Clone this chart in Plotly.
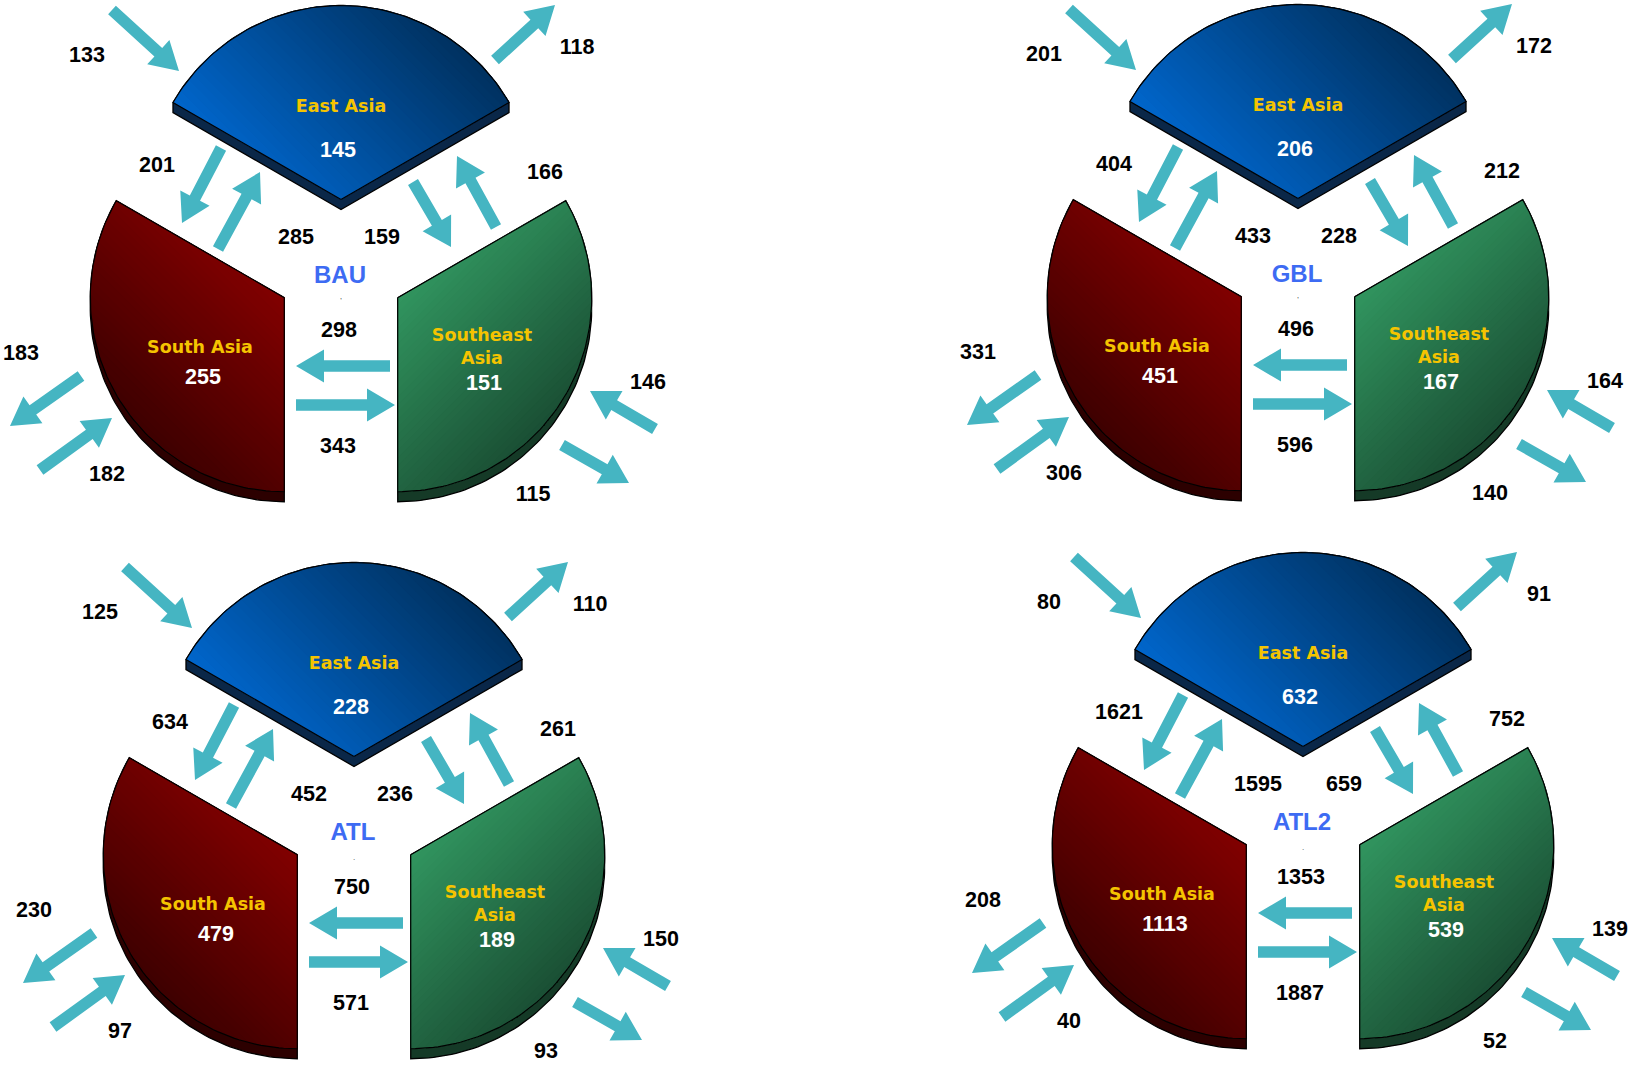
import numpy as np
import plotly.graph_objects as go

# ---------------- data ----------------
scenarios = ["BAU", "GBL", "ATL", "ATL2"]
scenario_marks = ["'", "'", ".", "."]
region_labels = ["East Asia", "South Asia", "Southeast<br>Asia"]

east_asia = [145, 206, 228, 632]
south_asia = [255, 451, 479, 1113]
southeast_asia = [151, 167, 189, 539]

ea_inflow = [133, 201, 125, 80]
ea_outflow = [118, 172, 110, 91]
ea_to_sa = [201, 404, 634, 1621]
sa_to_ea = [285, 433, 452, 1595]
ea_to_sea = [159, 228, 236, 659]
sea_to_ea = [166, 212, 261, 752]
sea_to_sa = [298, 496, 750, 1353]
sa_to_sea = [343, 596, 571, 1887]
sa_outflow = [183, 331, 230, 208]
sa_inflow = [182, 306, 97, 40]
sea_inflow = [146, 164, 150, 139]
sea_outflow = [115, 140, 93, 52]

# ---------------- layout (pixel geometry) ----------------
panel_centres = [(341, 265), (1298, 264), (354, 822), (1303, 812)]
R = 194.0
EXPLODE = 65.5
DEPTH = 10.0
TEXT_DY = 3

flows = [ea_inflow, ea_outflow, ea_to_sa, sa_to_ea, ea_to_sea, sea_to_ea,
         sea_to_sa, sa_to_sea, sa_outflow, sa_inflow, sea_inflow, sea_outflow]
arrow_geom = [((-229, -255), (-162, -194)), ((154, -205), (214, -260)),
              ((-120, -117), (-159, -42)), ((-123, -16), (-81, -93)),
              ((72, -83), (110, -18)), ((155, -38), (116, -109)),
              ((49, 101), (-45, 101)), ((-45, 140), (54, 140)),
              ((-260, 111), (-331, 161)), ((-301, 205), (-229, 153)),
              ((314, 164), (249, 126)), ((221, 180), (288, 218))]
label_off = [(-254, -211), (236, -219), (-184, -101), (-45, -29), (41, -29),
             (204, -94), (-2, 64), (-3, 180), (-320, 87), (-234, 208),
             (307, 116), (192, 228)]

# region geometry: bisector angle, face gradient, side colour, gradient direction
region_style = [
    dict(bis=90, c0="#0066CC", c1="#00315F", side="#0A2748", u=(0.707, -0.707),
         name_off=(0, -160), val_off=(-3, -116)),
    dict(bis=210, c0="#3E0000", c1="#820000", side="#2C0000", u=(0.707, -0.707),
         name_off=(-141, 81), val_off=(-138, 111)),
    dict(bis=330, c0="#31955F", c1="#1A4F34", side="#153A27", u=(0.707, 0.707),
         name_off=(141, 80), val_off=(143, 117)),
]
region_values = [east_asia, south_asia, southeast_asia]
N_BANDS = 36
ARROW_COLOR = "#45B5C2"


def hex2rgb(h):
    h = h.lstrip("#")
    return tuple(int(h[i:i + 2], 16) for i in (0, 2, 4))


def mix(a, b, t):
    ra, rb = hex2rgb(a), hex2rgb(b)
    return "rgb(%d,%d,%d)" % tuple(round(ra[k] + (rb[k] - ra[k]) * t) for k in range(3))


def sector(cx, cy, a0, a1, n=90):
    th = np.radians(np.linspace(a0, a1, n))
    pts = [(cx, cy)] + [(cx + R * np.cos(t), cy - R * np.sin(t)) for t in th]
    return pts


def hull(points):
    pts = sorted(set((round(p[0], 4), round(p[1], 4)) for p in points))

    def cross(o, a, b):
        return (a[0] - o[0]) * (b[1] - o[1]) - (a[1] - o[1]) * (b[0] - o[0])
    lower, upper = [], []
    for p in pts:
        while len(lower) >= 2 and cross(lower[-2], lower[-1], p) <= 0:
            lower.pop()
        lower.append(p)
    for p in reversed(pts):
        while len(upper) >= 2 and cross(upper[-2], upper[-1], p) <= 0:
            upper.pop()
        upper.append(p)
    return lower[:-1] + upper[:-1]


def clip(poly, u, s):
    out = []
    n = len(poly)
    for i in range(n):
        P, Q = poly[i], poly[(i + 1) % n]
        dp = P[0] * u[0] + P[1] * u[1] - s
        dq = Q[0] * u[0] + Q[1] * u[1] - s
        if dp >= 0:
            out.append(P)
        if (dp >= 0) != (dq >= 0):
            t = dp / (dp - dq)
            out.append((P[0] + t * (Q[0] - P[0]), P[1] + t * (Q[1] - P[1])))
    return out


def add_poly(xs, ys, poly, close=True):
    for p in poly:
        xs.append(p[0])
        ys.append(p[1])
    if close and poly:
        xs.append(poly[0][0])
        ys.append(poly[0][1])
    xs.append(None)
    ys.append(None)


def arrow_poly(x0, y0, x1, y1, sw=11.5, hw=33, hl=28):
    dx, dy = x1 - x0, y1 - y0
    L = np.hypot(dx, dy)
    ux, uy = dx / L, dy / L
    nx, ny = -uy, ux
    bx, by = x1 - ux * hl, y1 - uy * hl
    return [(x0 + nx * sw / 2, y0 + ny * sw / 2), (bx + nx * sw / 2, by + ny * sw / 2),
            (bx + nx * hw / 2, by + ny * hw / 2), (x1, y1),
            (bx - nx * hw / 2, by - ny * hw / 2), (bx - nx * sw / 2, by - ny * sw / 2),
            (x0 - nx * sw / 2, y0 - ny * sw / 2)]


fig = go.Figure()

# ---------------- sectors ----------------
for r, st in enumerate(region_style):
    side_x, side_y, out_x, out_y = [], [], [], []
    band_x = [[] for _ in range(N_BANDS)]
    band_y = [[] for _ in range(N_BANDS)]
    for (cx, cy) in panel_centres:
        b = np.radians(st["bis"])
        sx, sy = cx + EXPLODE * np.cos(b), cy - EXPLODE * np.sin(b)
        poly = sector(sx, sy, st["bis"] - 60, st["bis"] + 60)
        shifted = [(p[0], p[1] + DEPTH) for p in poly]
        add_poly(side_x, side_y, hull(poly + shifted))
        add_poly(out_x, out_y, poly)
        u = st["u"]
        proj = [p[0] * u[0] + p[1] * u[1] for p in poly]
        pmin, pmax = min(proj), max(proj)
        for i in range(N_BANDS):
            s = pmin + (pmax - pmin) * i / N_BANDS - (0.01 if i == 0 else 0)
            add_poly(band_x[i], band_y[i], clip(poly, u, s))
    fig.add_trace(go.Scatter(x=side_x, y=side_y, fill="toself", fillcolor=st["side"],
                             mode="lines", line=dict(color="#000000", width=1.3),
                             hoverinfo="skip"))
    for i in range(N_BANDS):
        col = mix(st["c0"], st["c1"], (i + 0.5) / N_BANDS)
        fig.add_trace(go.Scatter(x=band_x[i], y=band_y[i], fill="toself", fillcolor=col,
                                 mode="lines", line=dict(color=col, width=0),
                                 hoverinfo="skip"))
    fig.add_trace(go.Scatter(x=out_x, y=out_y, mode="lines",
                             line=dict(color="#000000", width=1.2), hoverinfo="skip"))

# ---------------- arrows ----------------
ax, ay = [], []
for (cx, cy) in panel_centres:
    for (s, e) in arrow_geom:
        add_poly(ax, ay, arrow_poly(cx + s[0], cy + s[1], cx + e[0], cy + e[1]))
fig.add_trace(go.Scatter(x=ax, y=ay, fill="toself", fillcolor=ARROW_COLOR, mode="lines",
                         line=dict(color=ARROW_COLOR, width=0), hoverinfo="skip"))

# ---------------- texts ----------------
tx, ty, tt = [], [], []
for k, (cx, cy) in enumerate(panel_centres):
    for f, off in zip(flows, label_off):
        tx.append(cx + off[0])
        ty.append(cy + off[1] + TEXT_DY)
        tt.append(str(f[k]))
fig.add_trace(go.Scatter(x=tx, y=ty, text=tt, mode="text", textposition="middle center",
                         cliponaxis=False,
                         textfont=dict(family="Liberation Sans, Arial, sans-serif", size=21.5,
                                       color="#000000", weight="bold"),
                         hoverinfo="skip"))

fig.add_trace(go.Scatter(x=[c[0] - 1 for c in panel_centres],
                         y=[c[1] + 9 + TEXT_DY for c in panel_centres],
                         text=scenarios, mode="text", textposition="middle center",
                         textfont=dict(family="Liberation Sans, Arial, sans-serif", size=24,
                                       color="#3D6BF3", weight="bold"),
                         hoverinfo="skip"))
fig.add_trace(go.Scatter(x=[c[0] for c in panel_centres], y=[c[1] + 36 for c in panel_centres],
                         text=scenario_marks, mode="text", textposition="middle center",
                         textfont=dict(family="Liberation Sans, Arial, sans-serif", size=8,
                                       color="#444444"),
                         hoverinfo="skip"))

nx_, ny_, nt_, vx_, vy_, vt_ = [], [], [], [], [], []
for r, st in enumerate(region_style):
    for k, (cx, cy) in enumerate(panel_centres):
        nx_.append(cx + st["name_off"][0])
        ny_.append(cy + st["name_off"][1] + TEXT_DY)
        nt_.append(region_labels[r])
        vx_.append(cx + st["val_off"][0])
        vy_.append(cy + st["val_off"][1] + TEXT_DY)
        vt_.append(str(region_values[r][k]))
fig.add_trace(go.Scatter(x=nx_, y=ny_, text=nt_, mode="text", textposition="middle center",
                         textfont=dict(family="DejaVu Sans, Verdana, sans-serif", size=17.5,
                                       color="#F5C400", weight="bold"),
                         hoverinfo="skip"))
fig.add_trace(go.Scatter(x=vx_, y=vy_, text=vt_, mode="text", textposition="middle center",
                         textfont=dict(family="Liberation Sans, Arial, sans-serif", size=21.5,
                                       color="#FFFFFF", weight="bold"),
                         hoverinfo="skip"))

fig.update_layout(
    width=1630, height=1065, margin=dict(l=0, r=0, t=0, b=0),
    paper_bgcolor="white", plot_bgcolor="white", showlegend=False,
    xaxis=dict(range=[0, 1630], visible=False, fixedrange=True),
    yaxis=dict(range=[1065, 0], visible=False, fixedrange=True),
)

fig.write_html("out.html", post_script="document.body.style.margin='0';",
               config={"displayModeBar": False})
